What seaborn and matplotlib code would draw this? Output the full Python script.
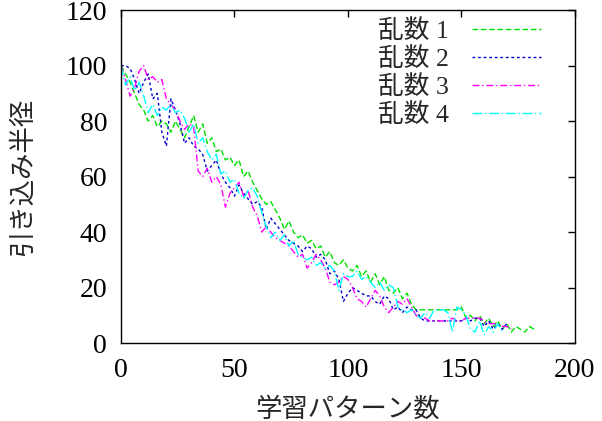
import numpy as np
import pandas as pd
import matplotlib
matplotlib.use("Agg")
import matplotlib.pyplot as plt
import seaborn as sns

series_names = ["乱数 1", "乱数 2", "乱数 3", "乱数 4"]
x_label = "学習パターン数"
y_label = "引き込み半径"
x_ticks = [0, 50, 100, 150, 200]
y_ticks = [0, 20, 40, 60, 80, 100, 120]

rand1 = [100, 97, 94, 90, 86, 84, 80, 82, 78, 80, 79, 76, 80, 77, 74, 78, 82, 76, 79, 72,
         74, 69, 70, 66, 67, 64, 66, 60, 62, 58, 55, 52, 50, 51, 48, 45, 41, 44, 40, 38,
         39, 36, 37, 34, 35, 31, 33, 29, 28, 30, 27, 26, 28, 24, 26, 22, 25, 21, 24, 19,
         18, 20, 16, 18, 14, 12, 12, 12, 12, 12, 12, 12, 12, 12, 12, 13, 9, 10, 8, 10,
         7, 9, 6, 8, 5, 7, 4, 6, 5, 4, 6, 5]
rand2 = [100, 100, 99, 95, 90, 94, 97, 88, 90, 76, 71, 88, 84, 79, 72, 74, 71, 70, 68, 62,
         64, 66, 61, 58, 56, 53, 57, 54, 52, 50, 51, 49, 41, 45, 43, 41, 39, 37, 36, 35,
         33, 35, 34, 31, 32, 30, 25, 26, 23, 15, 18, 20, 19, 18, 17, 17, 15, 14, 17, 16,
         12, 13, 11, 13, 12, 12, 9, 8, 8, 8, 8, 8, 8, 8, 8, 8, 9, 8, 9, 9,
         6, 8, 5, 7, 5, 7]
rand3 = [100, 95, 89, 92, 98, 100, 95, 96, 94, 95, 88, 86, 84, 80, 77, 79, 78, 62, 60, 63,
         58, 60, 57, 49, 54, 56, 58, 53, 55, 49, 46, 40, 42, 40, 38, 37, 36, 35, 33, 31,
         32, 27, 29, 32, 30, 27, 22, 21, 22, 24, 23, 20, 16, 15, 13, 16, 19, 17, 13, 11,
         13, 15, 14, 16, 13, 10, 9, 9, 8, 8, 8, 8, 8, 9, 8, 8, 9, 9, 9, 9,
         8, 7, 7, 7, 6, 6, 5]
rand4 = [100, 93, 96, 91, 94, 89, 83, 86, 82, 85, 84, 86, 83, 84, 81, 76, 79, 72, 74, 69,
         66, 68, 61, 62, 58, 59, 54, 52, 55, 56, 53, 47, 42, 38, 40, 37, 39, 35, 37, 32,
         31, 30, 31, 28, 29, 27, 28, 26, 19, 25, 24, 24, 26, 23, 24, 22, 20, 22, 19, 21,
         20, 13, 12, 11, 12, 10, 9, 11, 9, 12, 12, 12, 11, 4, 13, 12, 10, 5, 4, 8,
         3, 6, 4, 7, 4]

all_series = [rand1, rand2, rand3, rand4]

sns.set_theme(style="white")
plt.rcParams["font.family"] = ["Liberation Serif", "Noto Sans CJK JP", "DejaVu Sans"]

fig = plt.figure(figsize=(6.02, 4.21), dpi=100)
ax = fig.add_axes([0.201, 0.185, 0.754, 0.791])

colors = ["#00e000", "#0000d0", "#ff00ff", "#00ffff"]
styles = [(0, (4, 2)), (0, (2, 2)), (0, (5, 2, 1, 2)), (0, (7, 2, 1, 2))]

for name, vals, c, ls in zip(series_names, all_series, colors, styles):
    df = pd.DataFrame({"x": np.arange(len(vals)) * 2, "y": vals})
    sns.lineplot(data=df, x="x", y="y", ax=ax, color=c, linestyle=ls,
                 linewidth=1.0, label=name)

ax.set_xlim(0, 200)
ax.set_ylim(0, 120)
ax.set_xticks(x_ticks)
ax.set_yticks(y_ticks)
ax.tick_params(direction="in", length=5, width=1, top=True, right=True,
               labelsize=20, colors="black")
ax.tick_params(axis="x", pad=11)
ax.tick_params(axis="y", pad=10)
for sp in ax.spines.values():
    sp.set_color("black")
    sp.set_linewidth(1.0)

ax.set_xlabel(x_label, fontsize=19, labelpad=10)
ax.set_ylabel(y_label, fontsize=19, labelpad=22)

leg = ax.legend(loc="upper right", bbox_to_anchor=(0.96, 1.02), frameon=False,
                markerfirst=False, fontsize=18.5, handlelength=2.7,
                labelspacing=0.16, handletextpad=0.9, borderaxespad=0.2)

fig.savefig("out.png", dpi=100)
